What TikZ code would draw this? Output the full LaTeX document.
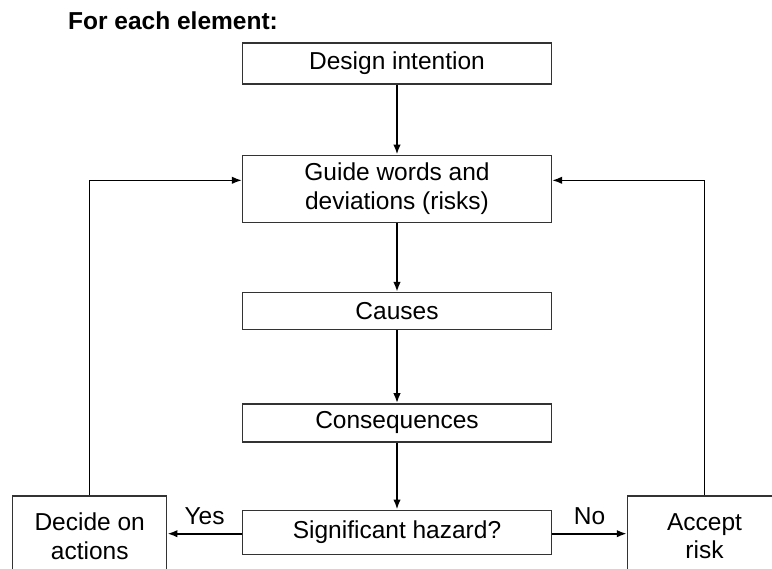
\documentclass[tikz,border=0pt]{standalone}
\usepackage{fontspec}
\setmainfont{Liberation Sans}
\usepackage{xcolor}
\usetikzlibrary{arrows.meta,positioning}

\begin{document}
\begin{tikzpicture}[
    x=1pt, y=1pt,
    node distance=70pt,
    box/.style={rectangle, draw=black!80, line width=1.3pt, minimum width=309pt, minimum height=38pt, align=center, font=\fontsize{24.5}{28.5}\selectfont, inner sep=2pt},
    sidebox/.style={box, minimum width=154pt, minimum height=80pt},
    arr/.style={-{Latex[length=10pt,width=7.5pt]}, line width=2pt}
]
\clip (0,0) rectangle (772,-569);

\node[anchor=base west, inner sep=0pt, font=\fontsize{24.5}{28}\selectfont\bfseries] (title) at (68,-30) {For each element:};

\node[box, minimum height=41pt] (design) at (397,-63.5) {Design intention};
\node[box, minimum height=67pt, below=70pt of design] (guide) {Guide words and\\deviations (risks)};
\node[box, minimum height=37pt, below=69pt of guide] (causes) {Causes};
\node[box, below=73pt of causes] (cons) {Consequences};
\node[box, minimum height=44pt, below=67pt of cons] (sig) {Significant hazard?};

\node[sidebox] (decide) at (89.7,-536) {Decide on\\actions};
\node[sidebox] (accept) at (704.5,-536) {Accept\\risk};

\foreach \a/\b in {design/guide, guide/causes, causes/cons, cons/sig}
  \draw[arr] (\a) -- (\b);

\draw[arr] ([yshift=-1.5pt]sig.west) -- node[above=5pt, font=\fontsize{24.5}{28}\selectfont] (yes) {Yes} ([yshift=-1.5pt]sig.west -| decide.east);
\draw[arr] ([yshift=-1.5pt]sig.east) -- node[above=5pt, font=\fontsize{24.5}{28}\selectfont] (no) {No} ([yshift=-1.5pt]sig.east -| accept.west);

\draw[arr, line width=1.5pt] (decide.north) |- ([yshift=8.5pt]guide.west);
\draw[arr, line width=1.5pt] (accept.north) |- ([yshift=8.5pt]guide.east);
\end{tikzpicture}
\end{document}
